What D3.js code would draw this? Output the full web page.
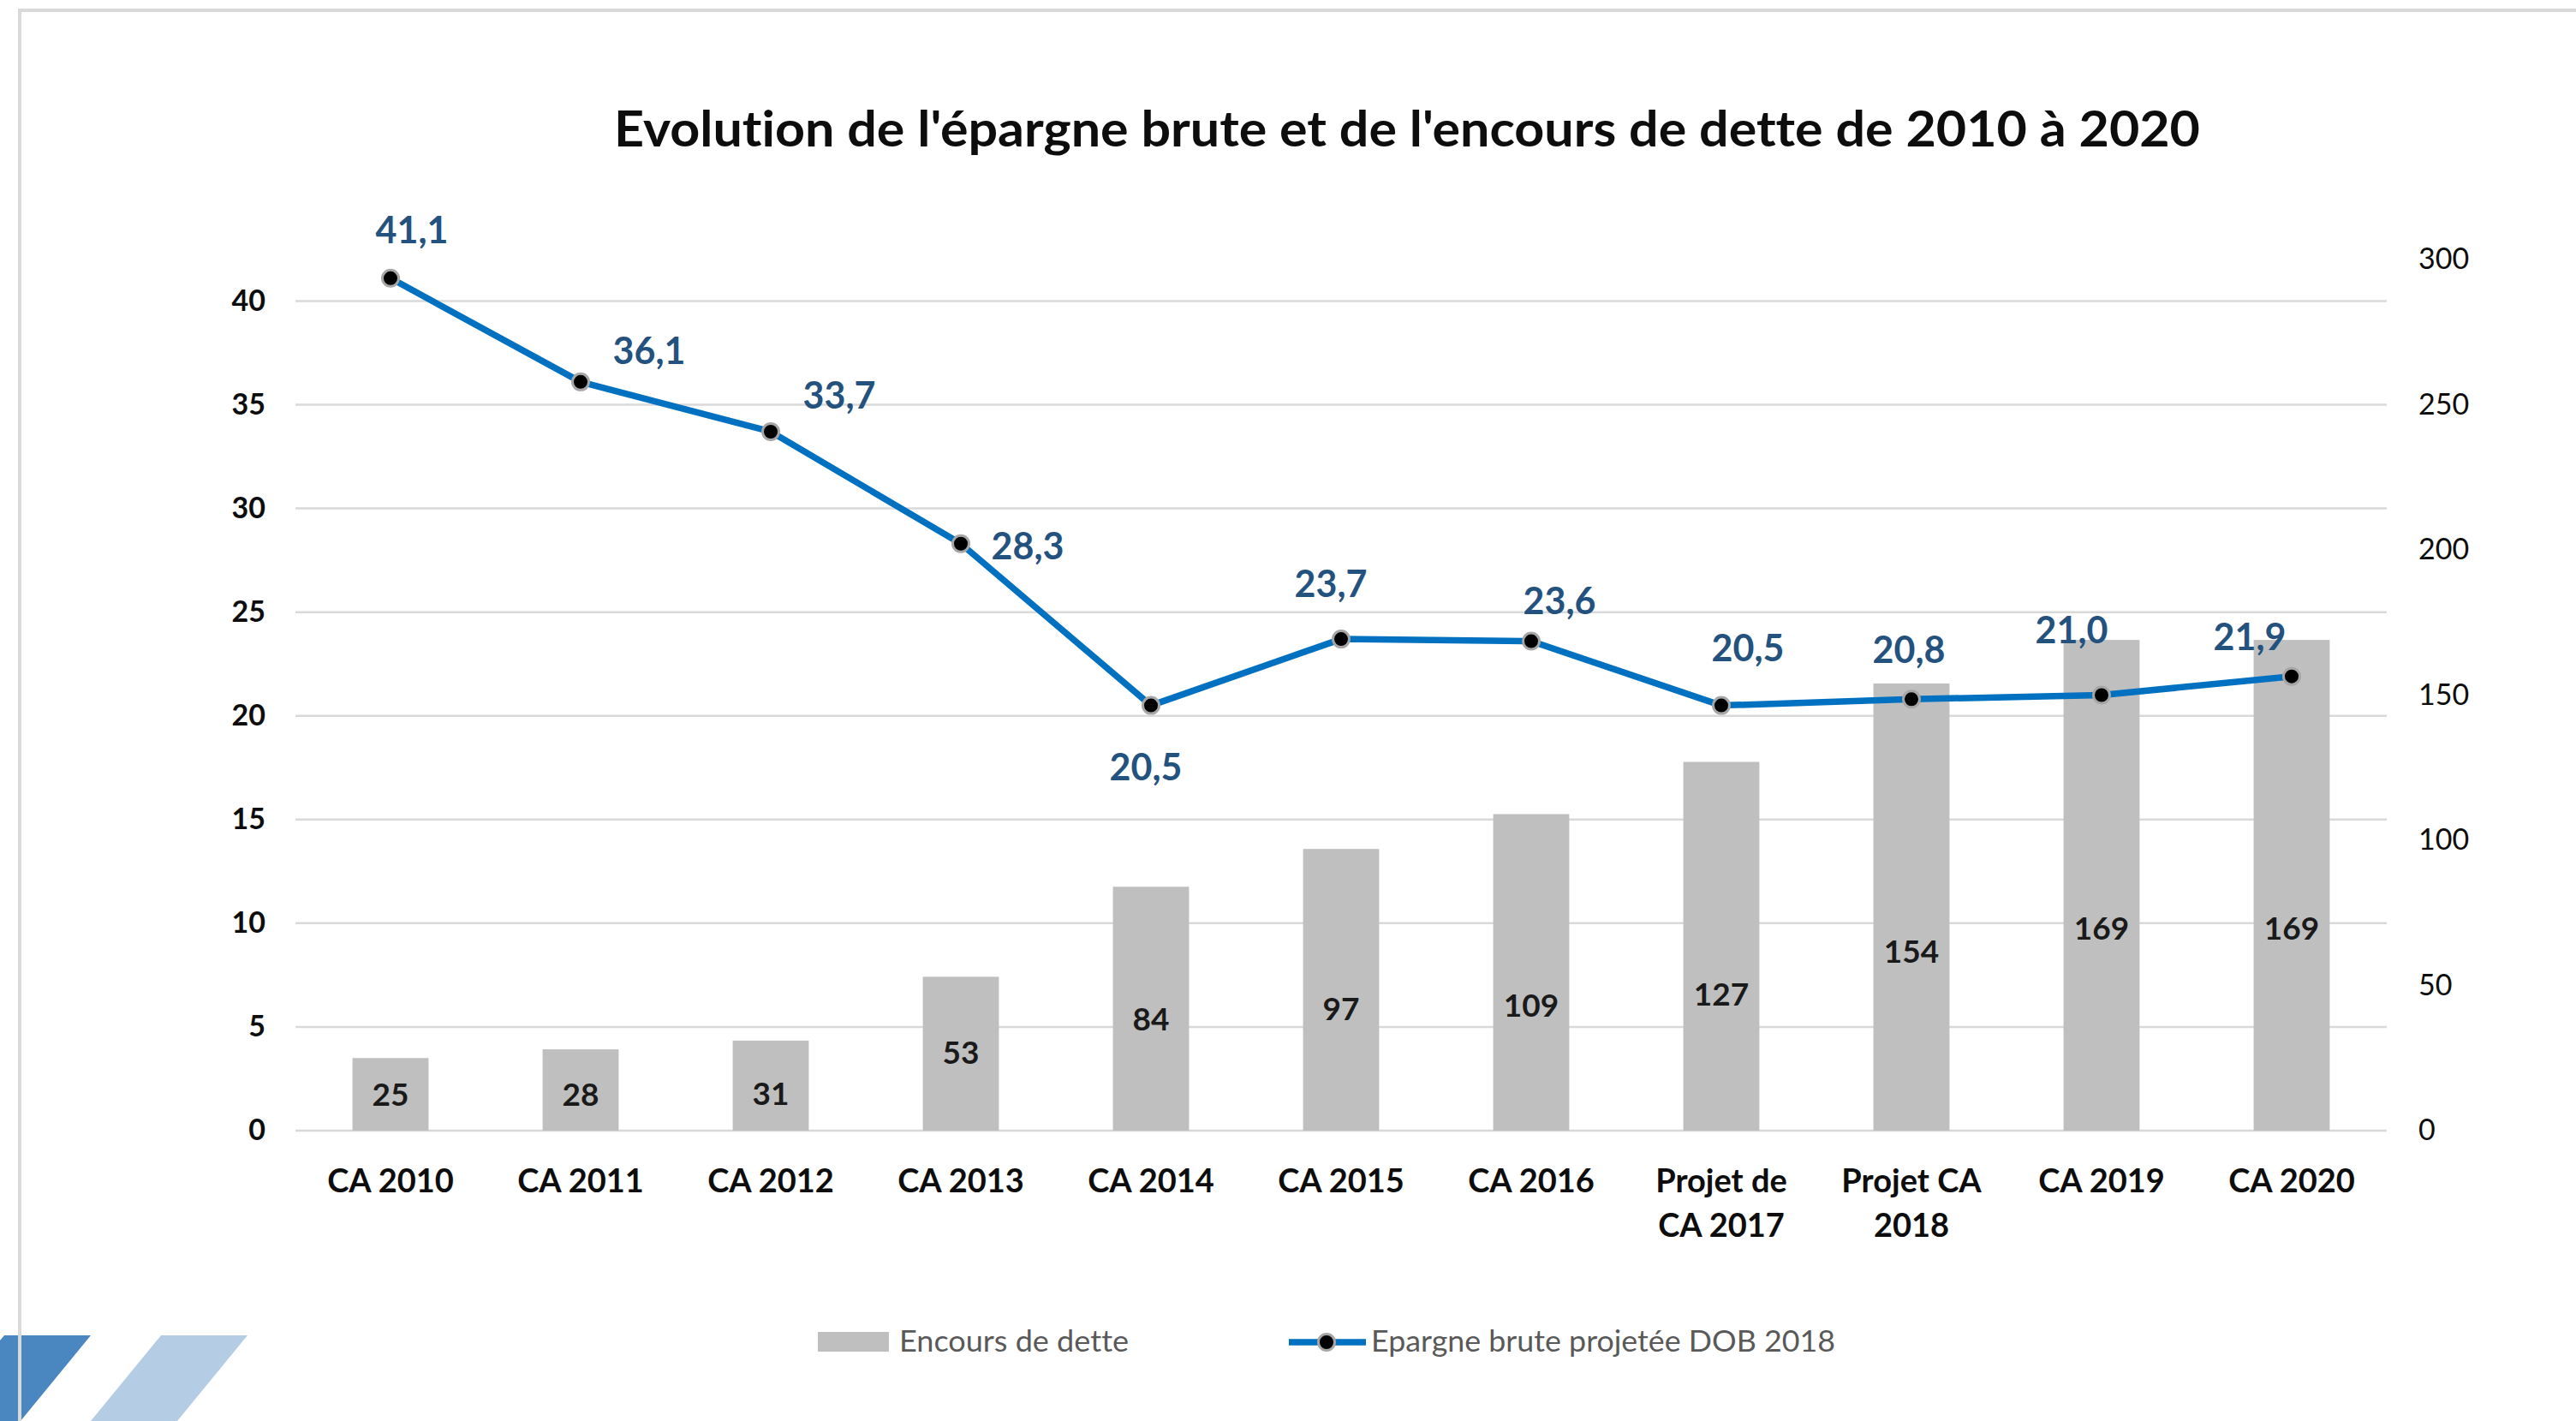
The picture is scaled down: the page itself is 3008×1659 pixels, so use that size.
<!DOCTYPE html>
<html>
<head>
<meta charset="utf-8">
<script src="https://cdn.jsdelivr.net/npm/d3@7"></script>
<style>
  html, body { margin: 0; padding: 0; background: #fff; }
  svg { display: block; font-family: Lato, "Open Sans", sans-serif; }
  svg text { font-variant-ligatures: none; font-feature-settings: "liga" 0; }
</style>
</head>
<body>
<svg id="chart" width="3008" height="1659"></svg>
<script>
// Data
const categories = ['CA 2010', 'CA 2011', 'CA 2012', 'CA 2013', 'CA 2014', 'CA 2015',
    'CA 2016', 'Projet de\nCA 2017', 'Projet CA\n2018', 'CA 2019', 'CA 2020'];
const encoursDette = [25, 28, 31, 53, 84, 97, 109, 127, 154, 169, 169];
const epargneBrute = [41.1, 36.1, 33.7, 28.3, 20.5, 23.7, 23.6, 20.5, 20.8, 21.0, 21.9];
const leftTicks = [0, 5, 10, 15, 20, 25, 30, 35, 40];
const rightTicks = [0, 50, 100, 150, 200, 250, 300];

// Hand placed label offsets (layout only)
const lineLabelNudge = [[25, -56], [80, -36], [80, -42], [78, 3], [-6, 72], [-12, -64],
    [33, -47], [31, -67], [-3, -57], [-35, -76], [-49, -46]];
const barLabelNudge = [0, 5, 10, -1, 12, 22, 39, 56, 52, 50, 50];

const svg = d3.select('#chart');
const plot = { left: 345, right: 2787, top: 303, bottom: 1320 };
const frFormat = d => d3.format('.1f')(d).replace('.', ',');

// Scales
const x = d3.scaleBand()
    .domain(categories)
    .range([plot.left, plot.right])
    .paddingInner(0.6)
    .paddingOuter(0.3);
const yLeft = d3.scaleLinear().domain([0, 42]).range([plot.bottom, plot.top]);
const yRight = d3.scaleLinear().domain([0, 300]).range([plot.bottom, plot.top]);
const cx = c => x(c) + x.bandwidth() / 2;

// Bottom-left decoration
svg.append('polygon')
    .attr('points', '5,1559 106,1559 24,1659 -77,1659')
    .attr('fill', '#4a86c0');
svg.append('polygon')
    .attr('points', '188,1559 289,1559 207,1659 106,1659')
    .attr('fill', '#b4cde4');

// Slide frame
svg.append('path')
    .attr('d', 'M23,1700 L23,12 L3100,12')
    .attr('fill', 'none')
    .attr('stroke', '#d9d9d9')
    .attr('stroke-width', 4);

// Title
svg.append('text')
    .attr('x', 717)
    .attr('y', 171)
    .attr('font-size', 58)
    .attr('font-weight', 'bold')
    .attr('fill', '#0d0d0d')
    .attr('textLength', 1852)
    .attr('lengthAdjust', 'spacingAndGlyphs')
    .text("Evolution de l'épargne brute et de l'encours de dette de 2010 à 2020");

// Gridlines
svg.append('g')
    .selectAll('line')
    .data(leftTicks)
    .enter()
    .append('line')
    .attr('x1', plot.left)
    .attr('x2', plot.right)
    .attr('y1', d => yLeft(d))
    .attr('y2', d => yLeft(d))
    .attr('stroke', '#d9d9d9')
    .attr('stroke-width', 2.5);

// Left axis
const leftAxis = svg.append('g')
    .attr('transform', `translate(${plot.left},0)`)
    .call(d3.axisLeft(yLeft).tickValues(leftTicks).tickSize(0).tickPadding(35));
leftAxis.select('.domain').remove();
leftAxis.selectAll('text')
    .attr('font-size', 34)
    .attr('font-weight', 'bold')
    .attr('fill', '#0d0d0d')
    .attr('font-family', 'Lato, sans-serif');

// Right axis
const rightAxis = svg.append('g')
    .attr('transform', `translate(${plot.right},0)`)
    .call(d3.axisRight(yRight).tickValues(rightTicks).tickSize(0).tickPadding(37));
rightAxis.select('.domain').remove();
rightAxis.selectAll('text')
    .attr('font-size', 34)
    .attr('fill', '#0d0d0d')
    .attr('font-family', 'Lato, sans-serif');

// Bars
svg.append('g')
    .selectAll('rect')
    .data(encoursDette)
    .enter()
    .append('rect')
    .attr('x', (d, i) => x(categories[i]))
    .attr('y', d => yRight(d))
    .attr('width', x.bandwidth())
    .attr('height', d => yRight(0) - yRight(d))
    .attr('fill', '#bfbfbf');

// Bar labels
svg.append('g')
    .selectAll('text')
    .data(encoursDette)
    .enter()
    .append('text')
    .attr('x', (d, i) => cx(categories[i]))
    .attr('y', (d, i) => (yRight(0) + yRight(d)) / 2 + barLabelNudge[i] + 13)
    .attr('text-anchor', 'middle')
    .attr('font-size', 37)
    .attr('font-weight', 'bold')
    .attr('fill', '#1a1a1a')
    .text(d => d);

// Category labels
const xAxis = svg.append('g')
    .attr('transform', `translate(0,${plot.bottom})`)
    .call(d3.axisBottom(x).tickSize(0).tickFormat(''));
xAxis.select('.domain').remove();
xAxis.selectAll('.tick').each(function(d) {
    const lines = d.split('\n');
    const t = d3.select(this).append('text')
        .attr('text-anchor', 'middle')
        .attr('font-size', 38)
        .attr('font-weight', 'bold')
        .attr('fill', '#0d0d0d')
        .attr('font-family', 'Lato, sans-serif');
    lines.forEach((line, i) => {
        t.append('tspan')
            .attr('x', 0)
            .attr('y', 72 + i * 52)
            .text(line);
    });
});

// Line series
const line = d3.line()
    .x((d, i) => cx(categories[i]))
    .y(d => yLeft(d));

svg.append('path')
    .datum(epargneBrute)
    .attr('d', line)
    .attr('fill', 'none')
    .attr('stroke', '#0070c0')
    .attr('stroke-width', 7.5)
    .attr('stroke-linejoin', 'round');

svg.append('g')
    .selectAll('circle')
    .data(epargneBrute)
    .enter()
    .append('circle')
    .attr('cx', (d, i) => cx(categories[i]))
    .attr('cy', d => yLeft(d))
    .attr('r', 9.5)
    .attr('fill', '#000')
    .attr('stroke', '#a6a6a6')
    .attr('stroke-width', 3);

// Line labels
svg.append('g')
    .selectAll('text')
    .data(epargneBrute)
    .enter()
    .append('text')
    .attr('x', (d, i) => cx(categories[i]) + lineLabelNudge[i][0])
    .attr('y', (d, i) => yLeft(d) + lineLabelNudge[i][1] + 15)
    .attr('text-anchor', 'middle')
    .attr('font-size', 43)
    .attr('font-weight', 'bold')
    .attr('fill', '#24527f')
    .text(d => frFormat(d));

// Legend
const legend = svg.append('g');
legend.append('rect')
    .attr('x', 955)
    .attr('y', 1555)
    .attr('width', 83)
    .attr('height', 23)
    .attr('fill', '#bfbfbf');
legend.append('text')
    .attr('x', 1050)
    .attr('y', 1578)
    .attr('font-size', 35)
    .attr('fill', '#595959')
    .attr('textLength', 268)
    .attr('lengthAdjust', 'spacingAndGlyphs')
    .text('Encours de dette');
legend.append('line')
    .attr('x1', 1505)
    .attr('x2', 1595)
    .attr('y1', 1567)
    .attr('y2', 1567)
    .attr('stroke', '#0070c0')
    .attr('stroke-width', 7.5);
legend.append('circle')
    .attr('cx', 1549)
    .attr('cy', 1567)
    .attr('r', 9.5)
    .attr('fill', '#000')
    .attr('stroke', '#a6a6a6')
    .attr('stroke-width', 3);
legend.append('text')
    .attr('x', 1601)
    .attr('y', 1578)
    .attr('font-size', 35)
    .attr('fill', '#595959')
    .attr('textLength', 542)
    .attr('lengthAdjust', 'spacingAndGlyphs')
    .text('Epargne brute projetée DOB 2018');
</script>
</body>
</html>
